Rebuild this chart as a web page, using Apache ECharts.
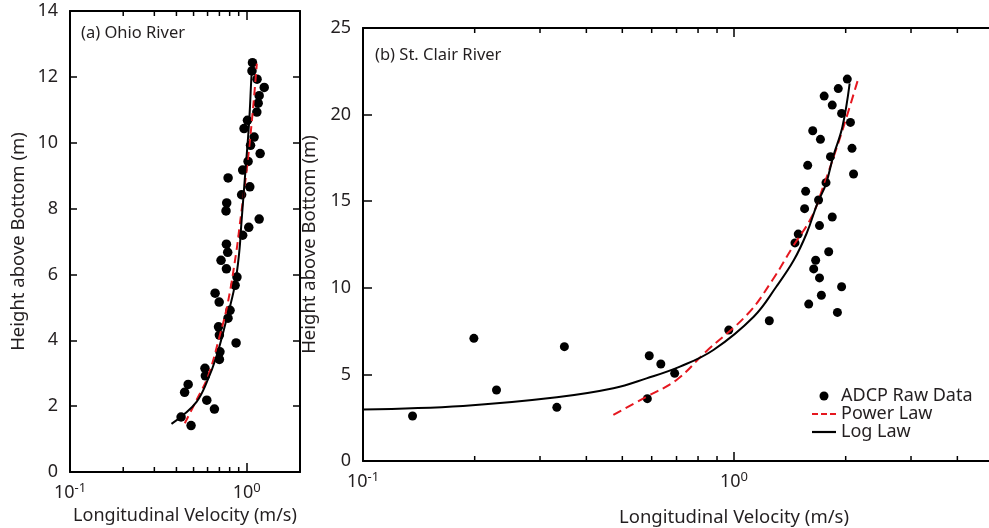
<!DOCTYPE html>
<html>
<head>
<meta charset="utf-8">
<script src="https://cdn.jsdelivr.net/npm/echarts@6/dist/echarts.min.js"></script>
<style>html,body{margin:0;padding:0;background:#fff}#c{width:989px;height:528px}</style>
</head>
<body>
<div id="c"></div>
<script>
// ---------- DATA ----------
// (a) Ohio River raw ADCP data: velocity (m/s), height above bottom (m)
const ohioVel = [1.077,1.07,1.143,1.255,1.175,1.16,1.14,1.009,0.965,1.10,1.05,1.19,1.017,0.948,0.784,1.04,0.935,0.77,0.763,1.175,1.026,0.948,0.767,0.78,0.715,0.767,0.88,0.859,0.662,0.698,0.804,0.783,0.692,0.70,0.87,0.705,0.70,0.58,0.583,0.466,0.445,0.594,0.656,0.425,0.484];
const ohioH   = [12.43,12.18,11.93,11.68,11.43,11.2,10.93,10.68,10.43,10.17,9.92,9.67,9.43,9.17,8.93,8.66,8.42,8.17,7.93,7.68,7.43,7.19,6.92,6.67,6.43,6.17,5.92,5.67,5.43,5.16,4.91,4.67,4.41,4.16,3.92,3.65,3.42,3.15,2.92,2.66,2.42,2.18,1.91,1.67,1.41];
const ohioLogVel = [0.375,0.437,0.52,0.59,0.673,0.767,0.853,0.905,0.935,0.98,1.03,1.065,1.075];
const ohioLogH   = [1.46,1.73,2.13,2.69,3.5,4.62,5.63,6.64,7.65,9.07,10.59,12.1,12.3];
const ohioPowVel = [0.446,0.52,0.603,0.70,0.78,0.87,0.91,1.018,1.087,1.14];
const ohioPowH   = [1.48,2.19,2.9,4.1,5.12,6.64,7.45,9.57,11.1,12.4];

// (b) St. Clair River
const stcVel = [0.136,0.199,0.229,0.333,0.349,0.591,0.584,0.635,0.692,0.968,1.245,2.02,1.91,1.75,1.84,1.95,2.06,1.63,1.71,2.08,1.82,1.58,2.10,1.77,1.56,1.69,1.55,1.84,1.70,1.49,1.46,1.80,1.66,1.64,1.70,1.95,1.72,1.59,1.90];
const stcH   = [2.6,7.08,4.1,3.1,6.6,6.08,3.6,5.6,5.06,7.56,8.1,22.05,21.5,21.07,20.55,20.07,19.55,19.07,18.57,18.05,17.57,17.07,16.57,16.07,15.57,15.07,14.57,14.09,13.59,13.1,12.59,12.08,11.59,11.09,10.57,10.06,9.57,9.06,8.58];
const stcLogVel = [0.1,0.186,0.333,0.473,0.581,0.715,0.88,1.13,1.30,1.45,1.57,1.68,1.77,1.85,1.96,2.05];
const stcLogH   = [2.98,3.18,3.68,4.2,4.77,5.45,6.41,8.33,10.06,11.6,13.15,14.9,16.0,17.57,19.3,21.8];
const stcPowVel = [0.473,0.581,0.70,0.84,1.09,1.27,1.44,1.62,1.74,1.87,2.0,2.16];
const stcPowH   = [2.66,3.71,4.68,6.31,8.5,10.45,12.37,14.1,15.84,17.77,19.69,22.04];

// axis tick values
const ohioYTicks = [0, 14, 2];      // min, max, interval
const stcYTicks  = [0, 25, 5];
const ohioXRange = [0.1, 2];
const stcXRange  = [0.1, 10];
const minorTicks = [0.2,0.3,0.4,0.5,0.6,0.7,0.8,0.9,2,3,4,5,6,7,8,9];

// ---------- CHART ----------
const FONT = 'Noto Sans';
const TXT = '#231f20';
const zip = (a, b) => a.map((v, i) => [v, b[i]]);

function expLabel(v) {
  const e = Math.round(Math.log10(v));
  if (Math.abs(v - Math.pow(10, e)) > 1e-9 * Math.max(1, v)) return '';
  return '{b|10}{s|' + e + '}';
}
const richX = {
  b: {fontSize: 18, fontFamily: FONT, color: TXT, lineHeight: 22},
  s: {fontSize: 13, fontFamily: FONT, color: TXT, verticalAlign: 'top', lineHeight: 12}
};
const axLine = {show: true, onZero: false, lineStyle: {color: '#000', width: 2}};
const tickIn = len => ({show: true, inside: true, length: len, lineStyle: {color: '#000', width: 1.5}});

function xAxes(grid, range, nameGap, fs) {
  return [
    {gridIndex: grid, type: 'log', logBase: 10, min: range[0], max: range[1], position: 'bottom',
     axisLine: axLine, axisTick: tickIn(9), splitLine: {show: false},
     axisLabel: {formatter: expLabel, rich: richX, margin: 10, showMaxLabel: false},
     name: 'Longitudinal Velocity (m/s)', nameLocation: 'middle', nameGap: nameGap,
     nameTextStyle: {fontSize: fs, fontFamily: FONT, color: TXT}},
    {gridIndex: grid, type: 'log', logBase: 10, min: range[0], max: range[1], position: 'top',
     axisLine: axLine, axisTick: tickIn(9), splitLine: {show: false}, axisLabel: {show: false}}
  ];
}
function yAxes(grid, t, nameGap, tl) {
  return [
    {gridIndex: grid, type: 'value', min: t[0], max: t[1], interval: t[2], position: 'left',
     axisLine: axLine, axisTick: tickIn(tl), splitLine: {show: false},
     axisLabel: {fontSize: 18, fontFamily: FONT, color: TXT, margin: 12},
     name: 'Height above Bottom (m)', nameLocation: 'middle', nameGap: nameGap,
     nameTextStyle: {fontSize: 18.5, fontFamily: FONT, color: TXT}},
    {gridIndex: grid, type: 'value', min: t[0], max: t[1], interval: t[2], position: 'right',
     axisLine: axLine, axisTick: tickIn(tl), splitLine: {show: false}, axisLabel: {show: false}}
  ];
}
function minorTickSeries(xi, yi, yr) {
  return {
    type: 'custom', xAxisIndex: xi, yAxisIndex: yi, silent: true, clip: true, z: 5,
    data: minorTicks.map(v => [v, yr[0]]),
    renderItem: (params, api) => {
      const v = api.value(0);
      const b = api.coord([v, yr[0]]);
      const t = api.coord([v, yr[1]]);
      const st = {stroke: '#000', lineWidth: 1.5};
      return {type: 'group', children: [
        {type: 'line', shape: {x1: b[0], y1: b[1], x2: b[0], y2: b[1] - 5}, style: st},
        {type: 'line', shape: {x1: t[0], y1: t[1], x2: t[0], y2: t[1] + 5}, style: st}
      ]};
    }
  };
}
const dot = {color: '#000', opacity: 1};
const red = '#e5171f';

const option = {
  animation: false,
  backgroundColor: '#fff',
  textStyle: {fontFamily: FONT},
  title: [
    {text: '(a) Ohio River', left: 76, top: 20, textStyle: {fontSize: 16.5, fontWeight: 'normal', fontFamily: FONT, color: TXT}},
    {text: '(b) St. Clair River', left: 370, top: 42, textStyle: {fontSize: 16.5, fontWeight: 'normal', fontFamily: FONT, color: TXT}}
  ],
  grid: [
    {left: 70, top: 11, width: 230, height: 461, outerBoundsMode: 'none', containLabel: false},
    {left: 363, top: 28, width: 742, height: 433, outerBoundsMode: 'none', containLabel: false}
  ],
  xAxis: [...xAxes(0, ohioXRange, 35, 18), ...xAxes(1, stcXRange, 47, 18.5)],
  yAxis: [...yAxes(0, ohioYTicks, 42, 7), ...yAxes(1, stcYTicks, 38, 9)],
  legend: {
    left: 807, top: 382, orient: 'vertical', itemWidth: 24, itemHeight: 9, itemGap: 0,
    textStyle: {fontSize: 18, fontFamily: FONT, color: TXT, lineHeight: 18},
    data: [
      {name: 'ADCP Raw Data', icon: 'circle', itemStyle: {color: '#000', opacity: 1}},
      {name: 'Power Law', icon: 'path://M0,0h6v2h-6z M9,0h6v2h-6z M18,0h6v2h-6z', itemStyle: {color: red}},
      {name: 'Log Law', icon: 'path://M0,0h24v2.2h-24z', itemStyle: {color: '#000'}}
    ]
  },
  series: [
    {name: 'ADCP Raw Data', type: 'scatter', xAxisIndex: 0, yAxisIndex: 0, symbolSize: 9.5, itemStyle: dot, data: zip(ohioVel, ohioH), z: 2},
    {name: 'Power Law', type: 'line', xAxisIndex: 0, yAxisIndex: 0, smooth: 0.4, symbol: 'none', lineStyle: {color: red, width: 2, type: [8, 5]}, itemStyle: {color: red}, data: zip(ohioPowVel, ohioPowH), z: 3},
    {name: 'Log Law', type: 'line', xAxisIndex: 0, yAxisIndex: 0, smooth: 0.4, symbol: 'none', lineStyle: {color: '#000', width: 2}, itemStyle: {color: '#000'}, data: zip(ohioLogVel, ohioLogH), z: 4},
    minorTickSeries(0, 0, [ohioYTicks[0], ohioYTicks[1]]),
    {name: 'ADCP Raw Data', type: 'scatter', xAxisIndex: 2, yAxisIndex: 2, symbolSize: 9, itemStyle: dot, data: zip(stcVel, stcH), z: 2},
    {name: 'Power Law', type: 'line', xAxisIndex: 2, yAxisIndex: 2, smooth: 0.4, symbol: 'none', lineStyle: {color: red, width: 2, type: [9, 5]}, itemStyle: {color: red}, data: zip(stcPowVel, stcPowH), z: 3},
    {name: 'Log Law', type: 'line', xAxisIndex: 2, yAxisIndex: 2, smooth: 0.4, symbol: 'none', lineStyle: {color: '#000', width: 2}, itemStyle: {color: '#000'}, data: zip(stcLogVel, stcLogH), z: 4},
    minorTickSeries(2, 2, [stcYTicks[0], stcYTicks[1]])
  ]
};
const chart = echarts.init(document.getElementById('c'), null, {renderer: 'canvas'});
chart.setOption(option);
</script>
</body>
</html>
